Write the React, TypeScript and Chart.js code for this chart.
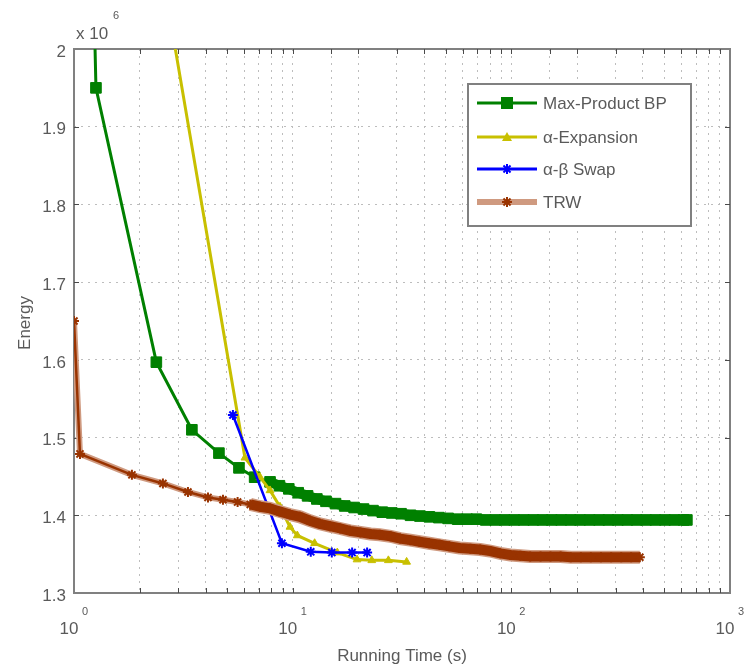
import React, { useEffect, useRef } from 'react';
import { Chart, registerables } from 'chart.js';

Chart.register(...registerables);

const FONT = '"Liberation Sans", Arial, Helvetica, sans-serif';

// Running time (s) and energy (x 10^6)
const bpTime = [1.18, 1.26, 2.38, 3.46, 4.6, 5.68, 6.7, 7.88, 8.7, 9.6, 10.6, 11.7, 12.9, 14.2, 15.7, 17.3, 19.1, 21.1, 23.3, 25.7, 28.4, 31.3, 34.6, 38.2, 42.2, 46.6, 51.4, 56.8, 62.7, 69.2, 76.4, 84.4, 93.2, 103, 114, 126, 139, 153, 169, 187, 206, 228, 252, 278, 307, 339, 374, 413, 456, 504, 556, 614, 635];
const bpEnergy = [2.3, 1.95, 1.597, 1.51, 1.48, 1.461, 1.449, 1.443, 1.438, 1.434, 1.429, 1.425, 1.421, 1.418, 1.415, 1.412, 1.41, 1.408, 1.406, 1.404, 1.403, 1.402, 1.4, 1.399, 1.398, 1.397, 1.396, 1.395, 1.395, 1.395, 1.394, 1.394, 1.394, 1.394, 1.394, 1.394, 1.394, 1.394, 1.394, 1.394, 1.394, 1.394, 1.394, 1.394, 1.394, 1.394, 1.394, 1.394, 1.394, 1.394, 1.394, 1.394, 1.394];

const expTime = [2.2, 6.05, 7.09, 7.88, 8.75, 9.72, 10.5, 12.6, 16.0, 19.7, 23.0, 27.4, 33.2];
const expEnergy = [2.2, 1.474, 1.449, 1.432, 1.411, 1.385, 1.374, 1.364, 1.352, 1.343, 1.342, 1.342, 1.34];

const swapTime = [5.33, 8.93, 12.1, 15.1, 18.7, 21.9];
const swapEnergy = [1.529, 1.364, 1.353, 1.352, 1.352, 1.352];

const trwTime = [1, 1.065, 1.84, 2.55, 3.32, 4.1, 4.8, 5.6, 6.4, 7.1, 7.87, 8.7, 9.7, 10.8, 12, 13.3, 14.8, 16.5, 18.3, 20.4, 22.7, 25, 28, 31, 34.5, 38, 42, 47, 52, 58, 65, 72, 80, 89, 99, 110, 122, 136, 151, 168, 187, 208, 231, 257, 286, 318, 353, 387];
const trwEnergy = [1.65, 1.479, 1.452, 1.441, 1.43, 1.423, 1.42, 1.417, 1.414, 1.411, 1.409, 1.405, 1.401, 1.398, 1.393, 1.389, 1.386, 1.383, 1.38, 1.378, 1.376, 1.375, 1.373, 1.37, 1.368, 1.366, 1.364, 1.362, 1.36, 1.358, 1.357, 1.356, 1.354, 1.351, 1.349, 1.348, 1.347, 1.347, 1.347, 1.347, 1.346, 1.346, 1.346, 1.346, 1.346, 1.346, 1.346, 1.346];

const legendLabels = ['Max-Product BP', 'α-Expansion', 'α-β Swap', 'TRW'];
const xMajorValues = [1, 10, 100, 1000];
const xMajorExponents = ['0', '1', '2', '3'];
const yMin = 1.3;
const yMax = 2.0;
const yStep = 0.1;
const xLabel = 'Running Time (s)';
const yLabel = 'Energy';

const GREEN = '#008000';
const YELLOW = '#c8c000';
const BLUE = '#0000ff';
const BROWN = '#993300';
const BROWN_LIGHT = '#cf9a80';
const TEXT = '#5a5a5a';

// where the marker trail becomes a dense band (styling only)
const BP_DENSE_FROM = 7.5;
const TRW_DENSE_FROM = 5.9;

const toPoints = (xs: number[], ys: number[]) => xs.map((x, i) => ({ x, y: ys[i] }));

function drawStar(ctx: CanvasRenderingContext2D, x: number, y: number, r: number, color: string) {
  ctx.save();
  ctx.strokeStyle = color;
  ctx.lineWidth = 2;
  ctx.beginPath();
  ctx.moveTo(x - r, y); ctx.lineTo(x + r, y);
  ctx.moveTo(x, y - r); ctx.lineTo(x, y + r);
  const d = r * Math.SQRT1_2;
  ctx.moveTo(x - d, y - d); ctx.lineTo(x + d, y + d);
  ctx.moveTo(x - d, y + d); ctx.lineTo(x + d, y - d);
  ctx.stroke();
  ctx.restore();
}

const decorPlugin = {
  id: 'matlabDecor',
  beforeDatasetsDraw(chart: any) {
    const { ctx, chartArea } = chart;
    const { left, right, top, bottom } = chartArea;
    const xs = chart.scales.x;
    const ys = chart.scales.y;
    ctx.save();
    ctx.strokeStyle = '#808080';
    ctx.lineWidth = 2;
    ctx.strokeRect(left, top, right - left, bottom - top);
    ctx.strokeStyle = '#4a4a4a';
    ctx.lineWidth = 1;
    ctx.beginPath();
    xs.ticks.forEach((t: any) => {
      const p = Math.round(xs.getPixelForValue(t.value)) + 0.5;
      if (p <= left + 1 || p >= right - 1) return;
      ctx.moveTo(p, bottom); ctx.lineTo(p, bottom - 5);
      ctx.moveTo(p, top); ctx.lineTo(p, top + 5);
    });
    ys.ticks.forEach((t: any) => {
      const p = Math.round(ys.getPixelForValue(t.value)) + 0.5;
      if (p <= top + 1 || p >= bottom - 1) return;
      ctx.moveTo(left, p); ctx.lineTo(left + 5, p);
      ctx.moveTo(right, p); ctx.lineTo(right - 5, p);
    });
    ctx.stroke();
    ctx.restore();
  },
  afterDraw(chart: any) {
    const { ctx, chartArea } = chart;
    const { left, right, top, bottom } = chartArea;
    const xs = chart.scales.x;
    const ys = chart.scales.y;
    ctx.save();
    ctx.fillStyle = TEXT;
    ctx.font = `17px ${FONT}`;
    ctx.textAlign = 'right';
    ctx.textBaseline = 'middle';
    ys.ticks.forEach((t: any) => {
      const p = ys.getPixelForValue(t.value);
      const v = Math.round(t.value * 10) / 10;
      ctx.fillText(v === 2 ? '2' : v.toFixed(1), left - 8, p + 3);
    });
    xMajorValues.forEach((v, i) => {
      const p = xs.getPixelForValue(v);
      ctx.font = `17px ${FONT}`;
      ctx.textAlign = 'center';
      ctx.fillText('10', p - 5, bottom + 36);
      ctx.font = `11px ${FONT}`;
      ctx.textAlign = 'left';
      ctx.fillText(xMajorExponents[i], p + 8, bottom + 19);
    });
    ctx.font = `17px ${FONT}`;
    ctx.textAlign = 'left';
    ctx.fillText('x 10', left + 2, top - 15);
    ctx.font = `11px ${FONT}`;
    ctx.fillText('6', left + 39, top - 33);
    ctx.font = `17px ${FONT}`;
    ctx.textAlign = 'center';
    ctx.fillText(xLabel, (left + right) / 2, bottom + 63);
    ctx.save();
    ctx.translate(25, (top + bottom) / 2 + 2);
    ctx.rotate(-Math.PI / 2);
    ctx.fillText(yLabel, 0, 0);
    ctx.restore();

    const bx = 468, by = 84, bw = 223, bh = 142;
    ctx.fillStyle = '#ffffff';
    ctx.fillRect(bx, by, bw, bh);
    ctx.strokeStyle = '#808080';
    ctx.lineWidth = 2;
    ctx.strokeRect(bx, by, bw, bh);
    const rowsY = [103, 137, 169, 202];
    const lineCols = [GREEN, YELLOW, BLUE, BROWN_LIGHT];
    const lineW = [3, 3, 3, 6];
    rowsY.forEach((y, i) => {
      ctx.strokeStyle = lineCols[i];
      ctx.lineWidth = lineW[i];
      ctx.beginPath();
      ctx.moveTo(477, y); ctx.lineTo(537, y);
      ctx.stroke();
      const mx = 507;
      if (i === 0) {
        ctx.fillStyle = GREEN;
        ctx.fillRect(mx - 6, y - 6, 12, 12);
      } else if (i === 1) {
        ctx.fillStyle = YELLOW;
        ctx.beginPath();
        ctx.moveTo(mx, y - 5); ctx.lineTo(mx + 5, y + 4); ctx.lineTo(mx - 5, y + 4);
        ctx.closePath();
        ctx.fill();
      } else if (i === 2) {
        drawStar(ctx, mx, y, 5, BLUE);
      } else {
        drawStar(ctx, mx, y, 5, BROWN);
      }
      ctx.fillStyle = TEXT;
      ctx.font = `17px ${FONT}`;
      ctx.textAlign = 'left';
      ctx.textBaseline = 'middle';
      ctx.fillText(legendLabels[i], 543, y + 1);
    });
    ctx.restore();
  },
};

export default function App() {
  const ref = useRef<HTMLCanvasElement | null>(null);
  useEffect(() => {
    document.body.style.margin = '0';
    const canvas = ref.current;
    if (!canvas) return;
    const gridColor = '#bdbdbd';
    const chart = new Chart(canvas, {
      type: 'line',
      data: {
        datasets: [
          {
            label: 'TRW core', data: toPoints(trwTime, trwEnergy), borderColor: BROWN, borderWidth: 2,
            segment: { borderWidth: (c: any) => (c.p0.parsed.x >= TRW_DENSE_FROM ? 10 : 2.5) },
            pointStyle: 'star', pointRadius: 5, pointBorderWidth: 2, pointBorderColor: BROWN, pointBackgroundColor: BROWN, order: 0,
          },
          {
            label: 'TRW', data: toPoints(trwTime, trwEnergy), borderColor: BROWN_LIGHT, borderWidth: 6,
            segment: { borderWidth: (c: any) => (c.p0.parsed.x >= TRW_DENSE_FROM ? 13 : 6) },
            pointRadius: 0, order: 1,
          },
          {
            label: 'α-β Swap', data: toPoints(swapTime, swapEnergy), borderColor: BLUE, borderWidth: 2.5,
            pointStyle: 'star', pointRadius: 5, pointBorderWidth: 2, pointBorderColor: BLUE, pointBackgroundColor: BLUE, order: 2,
          },
          {
            label: 'α-Expansion', data: toPoints(expTime, expEnergy), borderColor: YELLOW, borderWidth: 3,
            pointStyle: 'triangle', pointRadius: 4.5, pointBorderWidth: 1, pointBorderColor: YELLOW, pointBackgroundColor: YELLOW, order: 3,
          },
          {
            label: 'Max-Product BP', data: toPoints(bpTime, bpEnergy), borderColor: GREEN, borderWidth: 3,
            segment: { borderWidth: (c: any) => (c.p0.parsed.x >= BP_DENSE_FROM ? 10 : 3) },
            pointStyle: 'rect', pointRadius: 7.5, pointBorderWidth: 1, pointBorderColor: GREEN, pointBackgroundColor: GREEN, order: 4,
          },
        ],
      },
      options: {
        animation: false,
        responsive: false,
        events: [],
        layout: { padding: { left: 74, top: 49, right: 15, bottom: 78 } },
        elements: { line: { tension: 0, fill: false } },
        plugins: { legend: { display: false }, tooltip: { enabled: false } },
        scales: {
          x: {
            type: 'logarithmic', min: 1, max: 1000,
            ticks: { display: false, autoSkip: false },
            grid: { color: gridColor, lineWidth: 1, drawTicks: false },
            border: { display: false, dash: [2, 5] },
            afterFit: (s: any) => { s.height = 0; },
          },
          y: {
            type: 'linear', min: yMin, max: yMax,
            ticks: { display: false, stepSize: yStep, autoSkip: false },
            grid: { color: gridColor, lineWidth: 1, drawTicks: false },
            border: { display: false, dash: [2, 5] },
            afterFit: (s: any) => { s.width = 0; },
          },
        },
      } as any,
      plugins: [decorPlugin],
    });
    return () => chart.destroy();
  }, []);
  return <canvas ref={ref} width={745} height={671} style={{ display: 'block' }} />;
}
